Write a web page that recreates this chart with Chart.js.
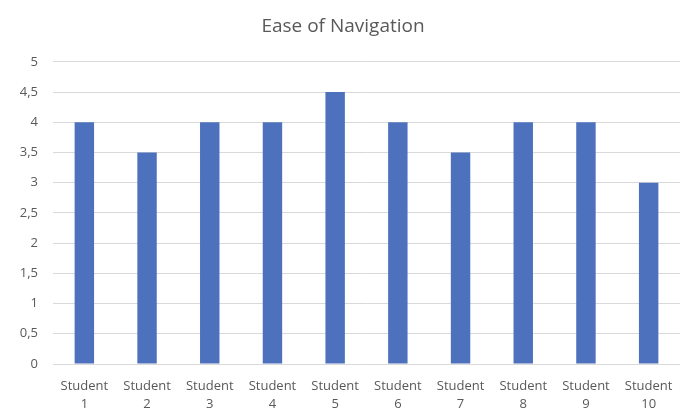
<!DOCTYPE html>
<html>
<head>
<meta charset="utf-8">
<script src="https://cdn.jsdelivr.net/npm/chart.js@4"></script>
<style>
  html, body { margin: 0; padding: 0; background: #fff; }
  #wrap { width: 688px; height: 409px; }
</style>
</head>
<body>
<div id="wrap"><canvas id="navChart" width="688" height="409"></canvas></div>
<script>
// Ratings per student
const students = ['1', '2', '3', '4', '5', '6', '7', '8', '9', '10'];
const ratings = [4, 3.5, 4, 4, 4.5, 4, 3.5, 4, 4, 3];
const yTicks = [0, 0.5, 1, 1.5, 2, 2.5, 3, 3.5, 4, 4.5, 5];

const textColor = '#595959';
const fontFamily = '"Open Sans", Lato, sans-serif';

new Chart(document.getElementById('navChart'), {
    type: 'bar',
    data: {
        labels: students.map(n => ['Student', n]),
        datasets: [{
            label: 'Ease of Navigation',
            data: ratings,
            backgroundColor: '#4E71BE',
            categoryPercentage: 1,
            barPercentage: 0.31
        }]
    },
    options: {
        responsive: false,
        animation: false,
        layout: { padding: { left: 6, right: 8, top: 15, bottom: 0 } },
        plugins: {
            legend: { display: false },
            tooltip: { enabled: false },
            title: {
                display: true,
                text: 'Ease of Navigation',
                color: textColor,
                font: { family: fontFamily, size: 19, weight: 'normal' },
                padding: { top: 0, bottom: 24 }
            }
        },
        scales: {
            y: {
                min: 0,
                max: 5,
                afterBuildTicks: axis => { axis.ticks = yTicks.map(v => ({ value: v })); },
                afterFit: axis => { axis.width = 47; },
                grid: { color: '#d9d9d9', lineWidth: 1, drawTicks: false },
                border: { display: false },
                ticks: {
                    color: textColor,
                    padding: 15,
                    font: { family: fontFamily, size: 13 },
                    callback: v => String(v).replace('.', ',')
                }
            },
            x: {
                // fixed band under the plot for the two-line labels
                afterFit: axis => { axis.height = 45; },
                grid: { display: false, drawTicks: false },
                border: { display: false },
                ticks: {
                    color: textColor,
                    padding: 14,
                    maxRotation: 0,
                    autoSkip: false,
                    font: { family: fontFamily, size: 13, lineHeight: 1.35 }
                }
            }
        }
    }
});
</script>
</body>
</html>
